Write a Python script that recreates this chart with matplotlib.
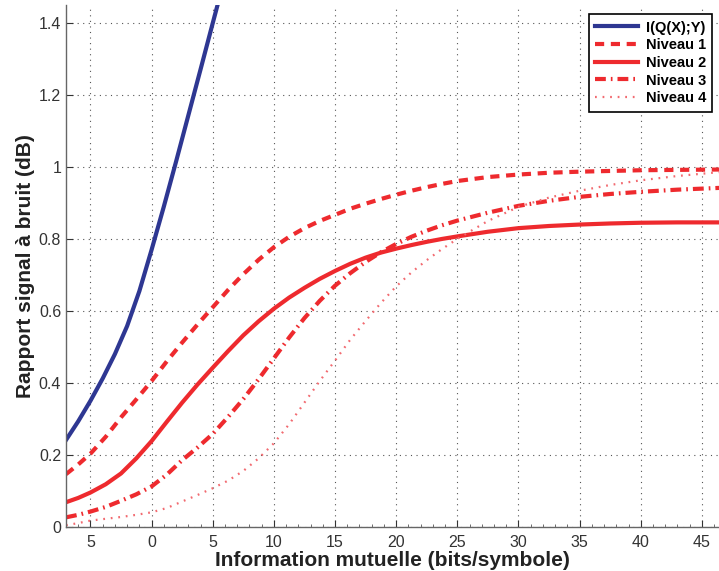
import matplotlib

matplotlib.use("Agg")
import matplotlib.pyplot as plt
from matplotlib.ticker import FixedLocator, MultipleLocator, FormatStrFormatter

plt.rcParams["font.family"] = ["Liberation Sans", "DejaVu Sans"]

# curves
x_info = [-7, -6, -5, -4, -3, -2, -1, 0, 1, 2, 3, 4, 5, 5.6]
y_info = [0.241, 0.293, 0.35, 0.412, 0.48, 0.558, 0.655, 0.77, 0.89, 1.015, 1.143, 1.271, 1.40, 1.477]

x_levels = [-7, -6, -5, -3.75, -2.5, -1.25, 0, 1.25, 2.5, 3.75, 5, 6.25, 7.5, 8.75, 10,
            11.25, 12.5, 13.75, 15, 16.25, 17.5, 18.75, 20, 21.25, 22.5, 23.75, 25,
            27.5, 30, 32.5, 35, 37.5, 40, 43, 46.5]
niveau1 = [0.146, 0.173, 0.203, 0.25, 0.304, 0.354, 0.405, 0.46, 0.512, 0.562, 0.61, 0.658,
           0.702, 0.742, 0.777, 0.806, 0.83, 0.85, 0.867, 0.884, 0.898, 0.911, 0.923, 0.934,
           0.944, 0.953, 0.961, 0.972, 0.979, 0.984, 0.987, 0.989, 0.991, 0.992, 0.993]
niveau2 = [0.068, 0.08, 0.095, 0.118, 0.148, 0.19, 0.238, 0.292, 0.345, 0.395, 0.442, 0.488,
           0.532, 0.571, 0.606, 0.637, 0.664, 0.689, 0.711, 0.731, 0.748, 0.762, 0.773, 0.783,
           0.792, 0.8, 0.807, 0.82, 0.83, 0.836, 0.84, 0.843, 0.845, 0.846, 0.846]
niveau3 = [0.026, 0.033, 0.042, 0.055, 0.072, 0.09, 0.112, 0.145, 0.185, 0.22, 0.258, 0.305,
           0.355, 0.41, 0.468, 0.526, 0.58, 0.628, 0.67, 0.705, 0.736, 0.763, 0.786, 0.806,
           0.823, 0.838, 0.851, 0.873, 0.892, 0.906, 0.917, 0.925, 0.931, 0.937, 0.942]
niveau4 = [0.004, 0.01, 0.017, 0.022, 0.027, 0.033, 0.04, 0.052, 0.07, 0.088, 0.107, 0.128,
           0.155, 0.19, 0.232, 0.285, 0.345, 0.405, 0.462, 0.52, 0.572, 0.622, 0.668, 0.707,
           0.741, 0.772, 0.80, 0.85, 0.889, 0.915, 0.934, 0.95, 0.963, 0.975, 0.986]

x_ticks = [-5, 0, 5, 10, 15, 20, 25, 30, 35, 40, 45]
x_tick_labels = ["5", "0", "5", "10", "15", "20", "25", "30", "35", "40", "45"]
y_ticks = [0, 0.2, 0.4, 0.6, 0.8, 1.0, 1.2, 1.4]

RED = "#ee2a2e"
BLUE = "#2e3792"

fig = plt.figure(figsize=(7.19, 5.71), dpi=100)
ax = fig.add_axes([0.0918, 0.0776, 0.9082, 0.9134])

common = dict(solid_joinstyle="round", dash_joinstyle="round")
ax.plot(x_info, y_info, color=BLUE, lw=3, label="I(Q(X);Y)", **common)
ax.plot(x_levels, niveau1, color=RED, lw=3, linestyle=(0, (2.2, 1.6)), label="Niveau 1", **common)
ax.plot(x_levels, niveau2, color=RED, lw=3, label="Niveau 2", **common)
ax.plot(x_levels, niveau3, color=RED, lw=3, linestyle=(0, (2.6, 1.2, 0.4, 1.2)), label="Niveau 3",
        **common)
ax.plot(x_levels, niveau4, color="#f26a70", lw=1.6, linestyle=(0, (0.8, 2.6)), label="Niveau 4",
        **common)

ax.set_xlim(-7, 46.4)
ax.set_ylim(0, 1.45)
ax.xaxis.set_major_locator(FixedLocator(x_ticks))
ax.set_xticklabels(x_tick_labels)
ax.xaxis.set_minor_locator(MultipleLocator(1))
ax.yaxis.set_major_locator(FixedLocator(y_ticks))
ax.yaxis.set_major_formatter(FormatStrFormatter("%g"))

ax.grid(True, which="major", color="#555555", linestyle=(0, (1, 4)), lw=0.8)
ax.tick_params(direction="in", colors="#333333", labelsize=11.5, length=5, width=0.8)
ax.tick_params(which="minor", direction="in", length=2.5, width=0.6, color="#555555")
ax.tick_params(axis="x", pad=6)
for side in ["top", "right"]:
    ax.spines[side].set_visible(False)
for side in ["left", "bottom"]:
    ax.spines[side].set_color("#666666")
    ax.spines[side].set_linewidth(1.0)

ax.set_xlabel("Information mutuelle (bits/symbole)", fontsize=15, fontweight="bold",
              color="#222222", labelpad=1)
ax.set_ylabel("Rapport signal à bruit (dB)", fontsize=15, fontweight="bold",
              color="#222222", labelpad=3)

leg = ax.legend(loc="upper right", bbox_to_anchor=(0.99, 0.983),
                prop={"weight": "bold", "size": 10.5},
                handlelength=2.9, handletextpad=0.55, labelspacing=0.25, borderpad=0.45,
                fancybox=False, framealpha=1, edgecolor="black", borderaxespad=0)
leg.get_frame().set_linewidth(1.2)

fig.savefig("out.png", dpi=100)
